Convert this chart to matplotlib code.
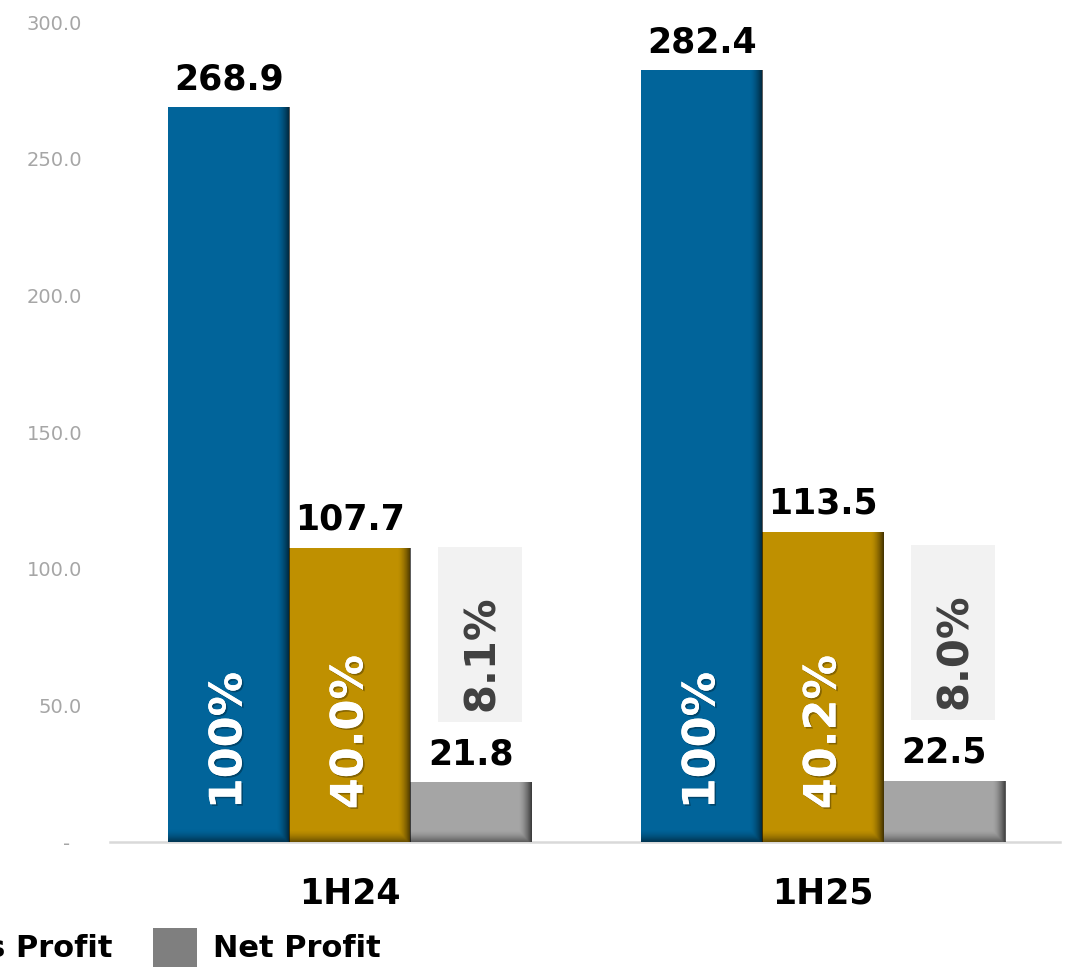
import numpy as np
import matplotlib
matplotlib.use("Agg")
import matplotlib.pyplot as plt
from matplotlib.patches import Rectangle
import matplotlib.patheffects as pe

# ---- data ----
categories = ["1H24", "1H25"]
revenue = [268.9, 282.4]
gross_profit = [107.7, 113.5]
net_profit = [21.8, 22.5]
revenue_pct = ["100%", "100%"]
gross_margin = ["40.0%", "40.2%"]
net_margin = ["8.1%", "8.0%"]
y_ticks = [0, 50, 100, 150, 200, 250, 300]
y_tick_labels = ["-  ", "50.0", "100.0", "150.0", "200.0", "250.0", "300.0"]
legend_labels = ["Gross Profit", "Net Profit"]

# ---- style ----
BLUE = "#01649A"
GOLD = "#BF9000"
GRAY = "#A5A5A5"
LEG_GRAY = "#7F7F7F"
FONT = "DejaVu Sans"

W, H = 1071, 967
fig = plt.figure(figsize=(W / 100, H / 100), dpi=100)
ax = fig.add_axes([110 / W, 1 - 842 / H, 950 / W, 820 / H])

x = np.arange(len(categories))
bw = 0.256
series = [(revenue, BLUE, -bw), (gross_profit, GOLD, 0.0), (net_profit, GRAY, bw)]


def shade(patch):
    """Dark gradient along the right and bottom edges of a bar (3D look)."""
    x0, y0 = patch.get_x(), patch.get_y()
    w, h = patch.get_width(), patch.get_height()
    nx, ny = 200, 400
    px_w = w * 950 / (1.501 + 0.507)
    px_h = h * 820 / 300
    xs = np.linspace(0, 1, nx)
    ys = np.linspace(0, 1, ny)
    a_r = 0.65 * np.clip(1 - ((1 - xs) * px_w) / 13.0, 0, 1) ** 1.6
    a_b = 0.45 * np.clip(1 - (ys * px_h) / 12.0, 0, 1) ** 1.6
    A = np.maximum(a_r[None, :], a_b[:, None])
    img = np.zeros((ny, nx, 4))
    img[..., 3] = A
    im = ax.imshow(img, extent=(x0, x0 + w, y0, y0 + h), origin="lower",
                   aspect="auto", interpolation="bilinear", zorder=3)
    im.set_clip_path(patch)


for vals, col, off in series:
    bars = ax.bar(x + off, vals, width=bw, color=col, zorder=2, linewidth=0)
    for p in bars:
        shade(p)

# value labels
for vals, col, off in series:
    for i, v in enumerate(vals):
        ax.text(x[i] + off, v + 6.5, f"{v:.1f}", ha="center", va="baseline",
                fontsize=25, fontweight="bold", color="black", family=FONT, zorder=5)

# percent labels inside bars
shadow = [pe.withSimplePatchShadow(offset=(1.2, -1.2), shadow_rgbFace="black", alpha=0.3),
          pe.Normal()]
for labels, off in [(revenue_pct, -bw), (gross_margin, 0.0)]:
    for i, t in enumerate(labels):
        ax.text(x[i] + off, 12, t, rotation=90, ha="center", va="bottom",
                fontsize=32, fontweight="bold", color="white", family=FONT,
                zorder=6, path_effects=shadow)

# net margin boxes
for i, t in enumerate(net_margin):
    v = net_profit[i]
    bx0 = x[i] + 0.186
    ax.add_patch(Rectangle((bx0, v + 22), 0.178, 64, facecolor="#F2F2F2",
                           edgecolor="none", zorder=4))
    ax.text(bx0 + 0.093, v + 26, t, rotation=90, ha="center", va="bottom",
            fontsize=30, fontweight="bold", color="#404040", family=FONT, zorder=5)

ax.set_xlim(-0.507, 1.501)
ax.set_ylim(0, 300)
ax.set_yticks(y_ticks)
ax.set_yticklabels(y_tick_labels)
ax.set_xticks(x)
ax.set_xticklabels(categories)
ax.tick_params(axis="y", length=0, pad=20, labelsize=14, labelcolor="#A6A6A6")
ax.tick_params(axis="x", length=0, pad=25, labelsize=25)
for lab in ax.get_xticklabels():
    lab.set_fontweight("bold")
    lab.set_family(FONT)
for lab in ax.get_yticklabels():
    lab.set_family(FONT)
for s in ["top", "right", "left"]:
    ax.spines[s].set_visible(False)
ax.spines["bottom"].set_color("#D9D9D9")
ax.spines["bottom"].set_linewidth(1.8)
ax.spines["bottom"].set_zorder(1)
ax.patch.set_alpha(0)

# legend (partially cut off at the left edge, as in the reference)
fig.text(112 / W, 1 - 957 / H, legend_labels[0], ha="right", va="baseline",
         fontsize=22, fontweight="bold", family=FONT)
fig.patches.append(Rectangle((153 / W, 1 - 972 / H), 44 / W, 44 / H,
                             transform=fig.transFigure, facecolor=LEG_GRAY,
                             edgecolor="none"))
fig.text(213 / W, 1 - 957 / H, legend_labels[1], ha="left", va="baseline",
         fontsize=22, fontweight="bold", family=FONT)

fig.savefig("out.png", dpi=100)
